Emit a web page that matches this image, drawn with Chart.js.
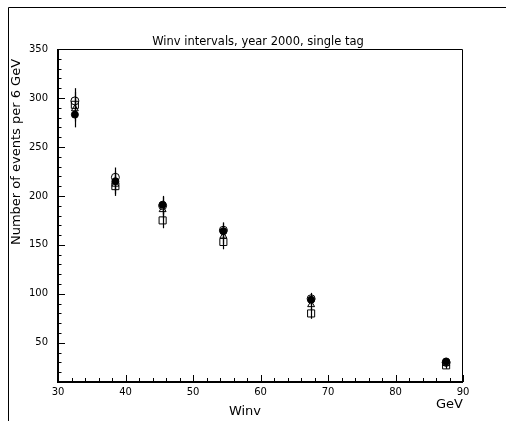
<!DOCTYPE html>
<html>
<head>
<meta charset="utf-8">
<script src="https://cdn.jsdelivr.net/npm/chart.js@4/dist/chart.umd.min.js"></script>
<style>
  html, body { margin: 0; padding: 0; background: #fff; }
  #wrap { width: 506px; height: 421px; position: relative; }
</style>
</head>
<body>
<div id="wrap"><canvas id="chart" width="506" height="421"></canvas></div>
<script>
// Winv bin centres (GeV)
const winvBins = [32.5, 38.5, 45.5, 54.5, 67.5, 87.5];

// events per bin, one array per marker type
const filledCircle = [283, 215, 191, 164, 94, 31];
const openCircle   = [297, 219, 190, 165, 95, 30];
const openTriangle = [289, 212, 186, 159, 89, 29];
const openSquare   = [293, 210, 175, 153, 80, 27];

// statistical errors
const filledCircleErr = [13, 10, 9, 8, 6, 3.5];
const openCircleErr   = [13, 10, 9, 8, 6, 3.5];
const openTriangleErr = [13, 10, 9, 8, 6, 3.5];
const openSquareErr   = [13, 10, 8, 7.5, 5.5, 3.5];

const xTickLabels = [30, 40, 50, 60, 70, 80, 90];
const yTickLabels = [50, 100, 150, 200, 250, 300, 350];

const titleText = 'Winv intervals, year 2000, single tag';
const xTitle = 'Winv';
const xUnit = 'GeV';
const yTitle = 'Number of events per 6 GeV';

const FONT = '"DejaVu Sans", "Liberation Sans", sans-serif';

function toPoints(vals) {
  return vals.map((v, i) => ({ x: winvBins[i], y: v }));
}

function makeSet(label, vals, errs, style, radius, filled) {
  return {
    label: label,
    data: toPoints(vals),
    errors: errs,
    pointStyle: style,
    pointRadius: radius,
    pointHoverRadius: radius,
    borderColor: '#000',
    pointBorderWidth: 1,
    backgroundColor: filled ? '#000' : 'rgba(0,0,0,0)',
    showLine: false
  };
}

// vertical error bars, drawn under the markers
const errorBars = {
  id: 'errorBars',
  beforeDatasetsDraw(chart) {
    const ctx = chart.ctx;
    const xs = chart.scales.x, ys = chart.scales.y;
    ctx.save();
    ctx.strokeStyle = '#000';
    ctx.lineWidth = 1.2;
    chart.data.datasets.forEach(ds => {
      ds.data.forEach((p, i) => {
        const e = ds.errors[i];
        const px = Math.round(xs.getPixelForValue(p.x)) + 0.5;
        ctx.beginPath();
        ctx.moveTo(px, ys.getPixelForValue(p.y - e));
        ctx.lineTo(px, ys.getPixelForValue(p.y + e));
        ctx.stroke();
      });
    });
    ctx.restore();
  }
};

// PAW-like frame: inward ticks, box, outer page border and texts
const frame = {
  id: 'frame',
  afterDraw(chart) {
    const ctx = chart.ctx;
    const a = chart.chartArea;
    const xs = chart.scales.x, ys = chart.scales.y;
    ctx.save();
    ctx.strokeStyle = '#000';

    // outer border
    ctx.lineWidth = 1;
    ctx.beginPath();
    ctx.moveTo(8.5, 421);
    ctx.lineTo(8.5, 7.5);
    ctx.lineTo(506, 7.5);
    ctx.stroke();

    // plot box
    ctx.lineWidth = 1;
    ctx.beginPath();
    ctx.moveTo(a.left, a.top + 0.5);
    ctx.lineTo(a.right - 0.5, a.top + 0.5);
    ctx.lineTo(a.right - 0.5, a.bottom);
    ctx.stroke();
    ctx.lineWidth = 2;
    ctx.beginPath();
    ctx.moveTo(a.left, a.top);
    ctx.lineTo(a.left, a.bottom);
    ctx.lineTo(a.right, a.bottom);
    ctx.stroke();

    // y ticks
    ctx.lineWidth = 1;
    for (let v = 10; v <= 350; v += 10) {
      const py = Math.round(ys.getPixelForValue(v)) + 0.5;
      const len = v % 50 === 0 ? 7 : 3.5;
      ctx.beginPath();
      ctx.moveTo(a.left, py);
      ctx.lineTo(a.left + len, py);
      ctx.stroke();
    }
    // x ticks
    for (let v = 30; v <= 90; v += 2) {
      const px = Math.round(xs.getPixelForValue(v)) + 0.5;
      const len = v % 10 === 0 ? 7 : 4;
      ctx.beginPath();
      ctx.moveTo(px, a.bottom);
      ctx.lineTo(px, a.bottom - len);
      ctx.stroke();
    }

    ctx.fillStyle = '#000';
    // title
    ctx.font = '11.5px ' + FONT;
    ctx.textAlign = 'center';
    ctx.textBaseline = 'alphabetic';
    ctx.fillText(titleText, 258, a.top - 4);

    // axis titles
    ctx.font = '13px ' + FONT;
    ctx.fillText(xTitle, 245, 415);
    ctx.textAlign = 'right';
    ctx.fillText(xUnit, a.right, 408);

    ctx.save();
    ctx.translate(20, 152);
    ctx.rotate(-Math.PI / 2);
    ctx.textAlign = 'center';
    ctx.fillText(yTitle, 0, 0);
    ctx.restore();

    ctx.restore();
  }
};

new Chart(document.getElementById('chart'), {
  type: 'scatter',
  data: {
    datasets: [
      makeSet('filled circle', filledCircle, filledCircleErr, 'circle', 3.5, true),
      makeSet('open circle', openCircle, openCircleErr, 'circle', 4, false),
      makeSet('open triangle', openTriangle, openTriangleErr, 'triangle', 4, false),
      makeSet('open square', openSquare, openSquareErr, 'rect', 5, false)
    ]
  },
  options: {
    responsive: false,
    animation: false,
    events: [],
    layout: { padding: { left: 0, top: 49, right: 43, bottom: 0 } },
    plugins: {
      legend: { display: false },
      tooltip: { enabled: false },
      title: { display: false }
    },
    scales: {
      x: {
        type: 'linear',
        min: 30,
        max: 90,
        grid: { display: false, drawTicks: false },
        border: { display: false },
        afterBuildTicks: s => { s.ticks = xTickLabels.map(v => ({ value: v })); },
        afterFit: s => { s.height = 39; },
        ticks: {
          padding: 4,
          maxRotation: 0,
          color: '#000',
          font: { family: FONT, size: 10 }
        }
      },
      y: {
        type: 'linear',
        min: 10,
        max: 350,
        grid: { display: false, drawTicks: false },
        border: { display: false },
        afterBuildTicks: s => { s.ticks = yTickLabels.map(v => ({ value: v })); },
        afterFit: s => { s.width = 58; },
        ticks: {
          padding: 10,
          color: '#000',
          font: { family: FONT, size: 10 }
        }
      }
    }
  },
  plugins: [errorBars, frame]
});
</script>
</body>
</html>
